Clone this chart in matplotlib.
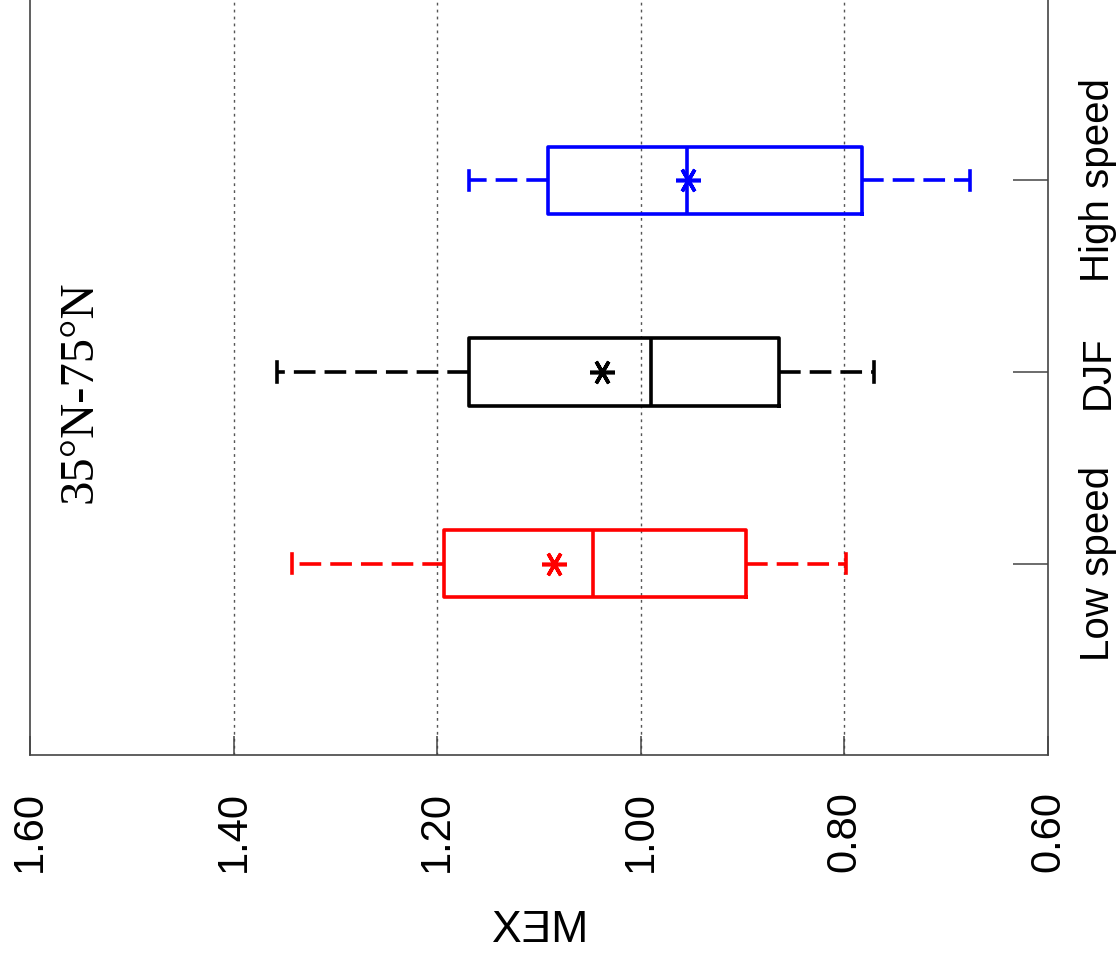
import matplotlib
matplotlib.use("Agg")
import matplotlib.pyplot as plt

# box statistics (MEX values)
groups = ["Low speed", "DJF", "High speed"]
colors = ["#ff0000", "#000000", "#0000ff"]
whislo = [0.798, 0.771, 0.677]
q1 = [0.897, 0.864, 0.783]
med = [1.047, 0.990, 0.955]
mean = [1.085, 1.038, 0.954]
q3 = [1.193, 1.169, 1.091]
whishi = [1.343, 1.357, 1.169]

xticks = [1.6, 1.4, 1.2, 1.0, 0.8, 0.6]
title = "35\u00b0N-75\u00b0N"

stats = []
for i in range(len(groups)):
    stats.append({"label": groups[i], "whislo": whislo[i], "q1": q1[i], "med": med[i],
                  "mean": mean[i], "q3": q3[i], "whishi": whishi[i], "fliers": []})

W, H = 1117, 958
fig = plt.figure(figsize=(W / 100, H / 100), dpi=100)
ax = fig.add_axes([30 / W, (H - 755) / H, 1018 / W, (755 + 11) / H])

pos = list(range(1, len(groups) + 1))
res = ax.bxp(stats, positions=pos, widths=0.35, capwidths=0.1, orientation="horizontal",
             showmeans=True, showfliers=False)

for i, c in enumerate(colors):
    res["boxes"][i].set(color=c, linewidth=2.6)
    res["medians"][i].set(color=c, linewidth=2.6)
    for w in res["whiskers"][2 * i:2 * i + 2]:
        w.set(color=c, linewidth=2.6, linestyle=(0, (6, 2.5)))
    for cp in res["caps"][2 * i:2 * i + 2]:
        cp.set(color=c, linewidth=2.6)
    res["means"][i].set(marker=(6, 2, 90), markersize=18, markeredgewidth=2.6,
                        markeredgecolor=c, markerfacecolor=c)

ax.set_xlim(1.6, 0.6)
ax.set_ylim(0, 4)
ax.set_xticks(xticks)
ax.set_xticklabels(["%.2f" % v for v in xticks], rotation=90, fontsize=30,
                   family="Liberation Sans")
ax.set_yticks(pos)
ax.set_yticklabels(groups, rotation=90, fontsize=29, family="Liberation Sans", va="center")
ax.yaxis.tick_right()

ax.tick_params(axis="x", direction="in", length=14, width=1.1, color="#444444", pad=26)
ax.tick_params(axis="y", direction="in", length=25, width=1.1, color="#444444", pad=22)

for g in [1.4, 1.2, 1.0, 0.8]:
    ax.axvline(g, color="#555555", linestyle=(0, (2, 3)), linewidth=1.0, zorder=0)

for s in ["left", "right", "bottom"]:
    ax.spines[s].set_color("#444444")
    ax.spines[s].set_linewidth(1.2)
ax.spines["top"].set_visible(False)

# title sits inside the axes, rotated like the rest of the figure
fig.text(79 / W, (H - 392) / H, title, rotation=90, fontsize=35,
         family=["Liberation Serif", "DejaVu Serif", "serif"], ha="center", va="center")
# the axis label appears mirrored in the figure
fig.text(540 / W, (H - 942) / H, "X\u018eM", fontsize=32, family="Liberation Sans",
         ha="center", va="baseline")

fig.savefig("out.png", dpi=100)
